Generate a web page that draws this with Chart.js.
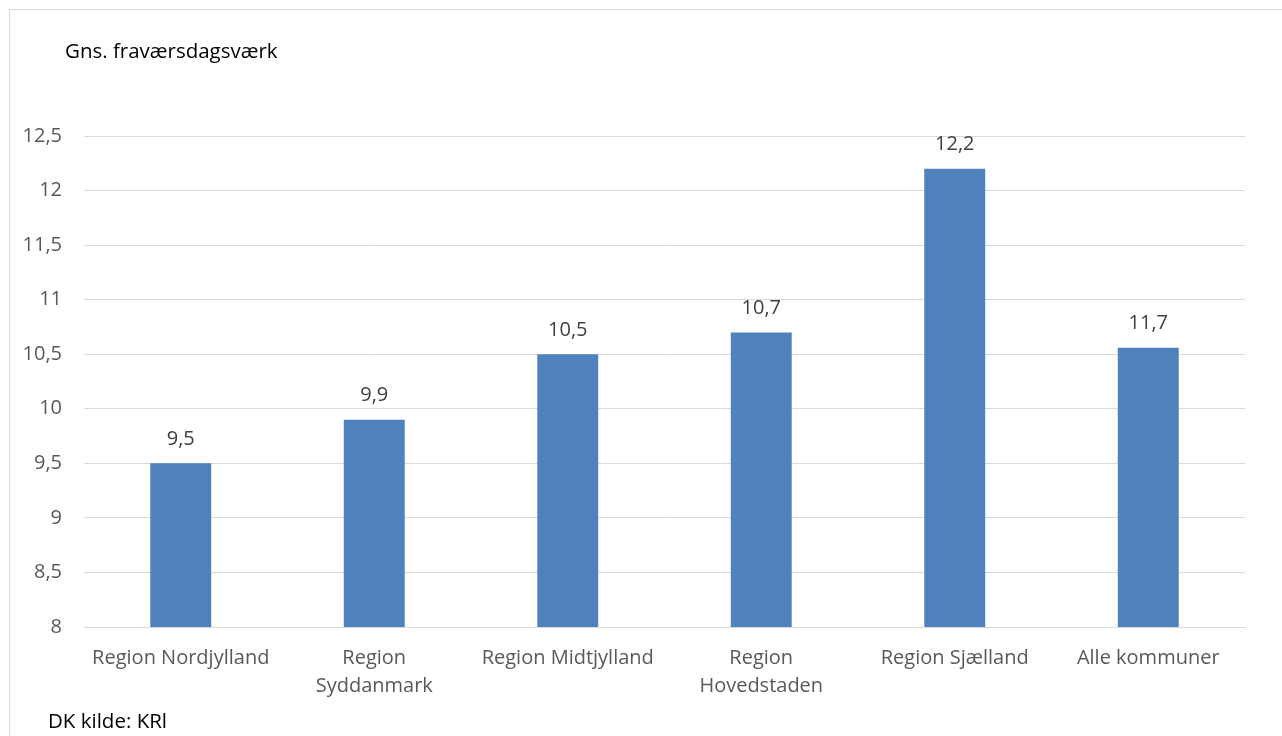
<!DOCTYPE html>
<html>
<head>
<meta charset="utf-8">
<script src="https://cdn.jsdelivr.net/npm/chart.js@4"></script>
<style>
  html, body { margin: 0; padding: 0; background: #fff; }
  #wrap { position: relative; width: 1282px; height: 736px; overflow: hidden; }
  #frame { position: absolute; left: 9px; top: 9px; width: 1300px; height: 800px; border: 1px solid #d9d9d9; box-sizing: border-box; }
  canvas { position: absolute; left: 0; top: 0; }
  .txt { position: absolute; font-family: "Open Sans", sans-serif; color: #000; font-size: 20.5px; line-height: 28px; white-space: nowrap; }
</style>
</head>
<body>
<div id="wrap">
  <div id="frame"></div>
  <canvas id="c" width="1282" height="736"></canvas>
  <div class="txt" id="title" style="left:65px; top:36px;">Gns. fraværsdagsværk</div>
  <div class="txt" id="source" style="left:48px; top:706px;">DK kilde: KRl</div>
</div>
<script>
const categories = [
  "Region Nordjylland",
  ["Region", "Syddanmark"],
  "Region Midtjylland",
  ["Region", "Hovedstaden"],
  "Region Sjælland",
  "Alle kommuner"
];
const values = [9.5, 9.9, 10.5, 10.7, 12.2, 10.56];
const valueLabels = ["9,5", "9,9", "10,5", "10,7", "12,2", "11,7"];
const yMin = 8, yMax = 12.5, yStep = 0.5;

const FONT = "Open Sans";

const labelPlugin = {
  id: 'valueLabels',
  afterDatasetsDraw(chart) {
    const ctx = chart.ctx;
    const meta = chart.getDatasetMeta(0);
    ctx.save();
    ctx.font = "20px '" + FONT + "'";
    ctx.fillStyle = "#404040";
    ctx.textAlign = "center";
    ctx.textBaseline = "middle";
    meta.data.forEach((bar, i) => {
      ctx.fillText(valueLabels[i], bar.x, bar.y - 24);
    });
    ctx.restore();
  }
};

new Chart(document.getElementById('c'), {
  type: 'bar',
  data: {
    labels: categories,
    datasets: [{
      data: values,
      backgroundColor: '#4f81bd',
      borderWidth: 0,
      barPercentage: 0.315,
      categoryPercentage: 1.0
    }]
  },
  options: {
    responsive: false,
    animation: false,
    devicePixelRatio: 1,
    layout: { padding: { left: 9, right: 37, top: 136, bottom: 0 } },
    plugins: { legend: { display: false }, tooltip: { enabled: false } },
    scales: {
      x: {
        grid: { display: false, drawTicks: false },
        border: { display: true, color: '#d9d9d9', width: 1 },
        ticks: {
          color: '#595959',
          font: { family: FONT, size: 20, lineHeight: 1.4 },
          padding: 17,
          maxRotation: 0,
          autoSkip: false
        },
        afterFit(s) { s.height = 109; }
      },
      y: {
        min: yMin, max: yMax,
        grid: { color: '#d9d9d9', drawTicks: false },
        border: { display: false },
        ticks: {
          stepSize: yStep,
          color: '#595959',
          font: { family: FONT, size: 20 },
          padding: 22,
          callback: v => String(v).replace('.', ',')
        },
        afterFit(s) { s.width = 75; }
      }
    }
  },
  plugins: [labelPlugin]
});
</script>
</body>
</html>
